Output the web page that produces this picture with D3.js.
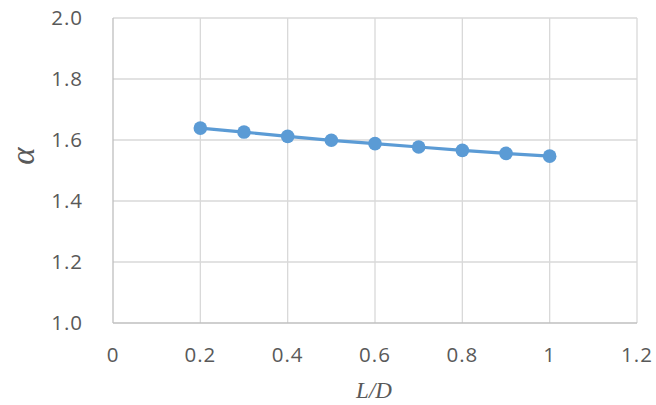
<!DOCTYPE html>
<html><head><meta charset="utf-8">
<script src="https://cdn.jsdelivr.net/npm/d3@7"></script>
<style>body{margin:0;background:#fff}svg{display:block}</style>
</head><body>
<svg id="c" width="656" height="405"></svg>
<script>
const xValues = [0.2, 0.3, 0.4, 0.5, 0.6, 0.7, 0.8, 0.9, 1.0];
const alphaValues = [1.639, 1.626, 1.612, 1.599, 1.588, 1.577, 1.566, 1.556, 1.547];
const xTicks = [0, 0.2, 0.4, 0.6, 0.8, 1, 1.2];
const xTickLabels = ["0", "0.2", "0.4", "0.6", "0.8", "1", "1.2"];
const yTicks = [1.0, 1.2, 1.4, 1.6, 1.8, 2.0];
const yTickLabels = ["1.0", "1.2", "1.4", "1.6", "1.8", "2.0"];

const svg = d3.select("#c");
const L = 113, R = 637, T = 18, B = 323;
const x = d3.scaleLinear().domain([0, 1.2]).range([L, R]);
const y = d3.scaleLinear().domain([1.0, 2.0]).range([B, T]);

// gridlines
const g = svg.append("g");
g.selectAll("line.v").data(xTicks.slice(1)).join("line")
  .attr("x1", d => x(d)).attr("x2", d => x(d)).attr("y1", T).attr("y2", B)
  .attr("stroke", "#d9d9d9").attr("stroke-width", 1.3);
g.selectAll("line.h").data(yTicks.slice(1)).join("line")
  .attr("x1", L).attr("x2", R).attr("y1", d => y(d)).attr("y2", d => y(d))
  .attr("stroke", "#d9d9d9").attr("stroke-width", 1.3);
// axes lines
svg.append("line").attr("x1", L).attr("x2", L).attr("y1", T).attr("y2", B)
  .attr("stroke", "#bfbfbf").attr("stroke-width", 1.3);
svg.append("line").attr("x1", L).attr("x2", R).attr("y1", B).attr("y2", B)
  .attr("stroke", "#bfbfbf").attr("stroke-width", 1.3);

// tick labels
svg.selectAll("text.yt").data(yTicks).join("text")
  .attr("x", 83).attr("y", d => y(d)).attr("dy", "0.36em")
  .attr("text-anchor", "end").attr("fill", "#595959")
  .attr("font-family", "Open Sans, sans-serif").attr("font-size", 20.5)
  .attr("letter-spacing", "1px")
  .text((d, i) => yTickLabels[i]);
svg.selectAll("text.xt").data(xTicks).join("text")
  .attr("x", d => x(d)).attr("y", 355).attr("dy", "0.36em")
  .attr("text-anchor", "middle").attr("fill", "#595959")
  .attr("font-family", "Open Sans, sans-serif").attr("font-size", 20.5)
  .attr("letter-spacing", "1px")
  .text((d, i) => xTickLabels[i]);

// axis titles
svg.append("text").attr("x", 374).attr("y", 398).attr("text-anchor", "middle")
  .attr("font-family", "Liberation Serif, serif").attr("font-style", "italic")
  .attr("font-size", 23).attr("fill", "#595959").text("L/D");
svg.append("text").attr("transform", "translate(34,156) rotate(-90)")
  .attr("text-anchor", "middle")
  .attr("font-family", "Liberation Serif, serif").attr("font-style", "italic")
  .attr("font-size", 33).attr("fill", "#595959").text("α");

// line and markers
const line = d3.line().x((d, i) => x(xValues[i])).y(d => y(d));
svg.append("path").datum(alphaValues).attr("d", line)
  .attr("fill", "none").attr("stroke", "#5b9bd5").attr("stroke-width", 3.2)
  .attr("stroke-linejoin", "round");
svg.selectAll("circle").data(alphaValues).join("circle")
  .attr("cx", (d, i) => x(xValues[i])).attr("cy", d => y(d)).attr("r", 6.8)
  .attr("fill", "#5b9bd5");
</script>
</body></html>
